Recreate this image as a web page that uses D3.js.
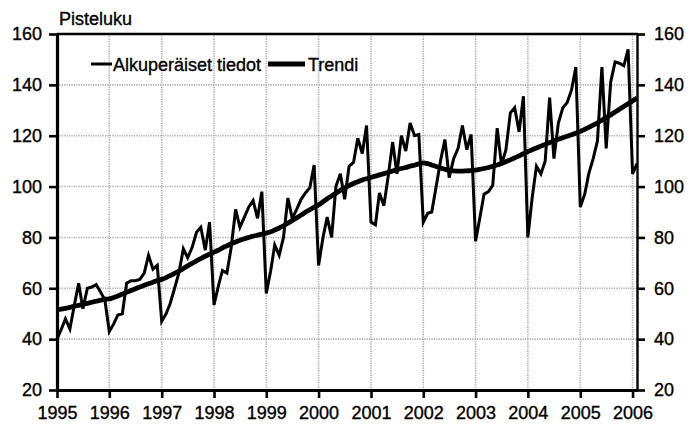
<!DOCTYPE html>
<html>
<head>
<meta charset="utf-8">
<script src="https://cdn.jsdelivr.net/npm/d3@7"></script>
<style>
  html, body { margin: 0; padding: 0; background: #fff; }
  svg { display: block; font-family: "Liberation Sans", Arial, sans-serif; }
</style>
</head>
<body>
<svg id="chart" width="690" height="429"></svg>
<script>
// ---- data ----
const startYear = 1995;
const yearLabels = ["1995","1996","1997","1998","1999","2000","2001","2002","2003","2004","2005","2006"];
const yTicks = [20, 40, 60, 80, 100, 120, 140, 160];
const yTitle = "Pisteluku";
const seriesNames = ["Alkuperäiset tiedot", "Trendi"];

// monthly values Jan 1995 .. Feb 2006
const original = [
  40, 44, 48, 44, 53, 62, 52, 60, 60.5, 61.5, 58.5, 55.5,
  43, 46, 49.5, 50, 62, 63, 63, 63.5, 66, 73, 67.5, 69,
  47, 50, 54, 60, 66, 75.5, 72, 76, 82, 84, 75, 86,
  53.5, 61, 67, 66, 76, 91, 84, 88, 92, 94.5, 87.5, 98,
  58, 67, 77, 73, 80, 95.5, 87.5, 91, 95, 97.5, 99.5, 108.5,
  69, 80, 88, 80, 100, 105, 95, 108, 109.5, 119, 113, 124,
  86, 85, 97.5, 92.5, 104, 117.5, 105, 120, 114, 125, 120, 120.5,
  86, 89.5, 90, 100, 110, 118.5, 103.5, 111, 115, 124, 114.5, 120.5,
  78.5, 88, 97, 98, 100.5, 123, 108.5, 114.5, 129, 131, 121.5, 135.5,
  80, 96, 108, 105, 110, 135, 111, 125, 131, 133, 138, 147,
  92, 97, 105, 111, 118, 147, 115, 141, 149, 148.5, 147.5, 154,
  105, 109
];
const trend = [
  51.5, 51.8, 52.1, 52.5, 52.9, 53.3, 53.7, 54.1, 54.5, 54.9, 55.3, 55.7,
  55.8, 56.4, 57.0, 57.7, 58.4, 59.1, 59.8, 60.5, 61.2, 61.8, 62.4, 63.0,
  63.5, 64.2, 65.0, 65.9, 66.8, 67.8, 68.8, 69.8, 70.8, 71.7, 72.6, 73.4,
  74.2, 75.0, 75.9, 76.7, 77.5, 78.2, 78.9, 79.5, 80.0, 80.5, 80.9, 81.3,
  81.7, 82.2, 82.9, 83.7, 84.6, 85.6, 86.6, 87.7, 88.8, 89.9, 90.9, 91.9,
  92.8, 94.0, 95.2, 96.3, 97.4, 98.5, 99.5, 100.4, 101.2, 101.9, 102.6, 103.1,
  103.6, 104.1, 104.6, 105.1, 105.6, 106.1, 106.6, 107.1, 107.5, 108.0, 108.4, 108.9,
  109.3, 109.0, 108.5, 107.9, 107.3, 106.8, 106.4, 106.2, 106.1, 106.1, 106.2, 106.3,
  106.5, 106.8, 107.1, 107.5, 108.0, 108.5, 109.1, 109.8, 110.5, 111.3, 112.1, 112.9,
  113.8, 114.5, 115.2, 115.9, 116.6, 117.3, 118.0, 118.6, 119.2, 119.8, 120.4, 121.0,
  121.7, 122.5, 123.3, 124.2, 125.1, 126.1, 127.1, 128.2, 129.3, 130.4, 131.5, 132.6,
  133.7, 134.8
];

// ---- layout ----
const L = 57, R = 637, T = 34, B = 390;
const svg = d3.select("#chart");

const dateOf = i => new Date(startYear, i, 1);
const x = d3.scaleTime()
  .domain([dateOf(0), dateOf(original.length - 1)])
  .range([L, R]);
const y = d3.scaleLinear().domain([20, 160]).range([B, T]);
const yearDates = yearLabels.map(s => new Date(+s, 0, 1));

// grid
const grid = svg.append("g").attr("stroke", "#aaa").attr("stroke-width", 1.6)
  .attr("stroke-dasharray", "1.2,1.2");
grid.selectAll("line.v").data(yearDates.slice(1)).join("line")
  .attr("x1", d => x(d)).attr("x2", d => x(d)).attr("y1", T).attr("y2", B);
grid.selectAll("line.h").data(yTicks.slice(1, -1)).join("line")
  .attr("x1", L).attr("x2", R).attr("y1", d => y(d)).attr("y2", d => y(d));

// lines
const line = d3.line().x((d, i) => x(dateOf(i))).y(d => y(d)).curve(d3.curveLinear);
svg.append("path").datum(original).attr("d", line)
  .attr("fill", "none").attr("stroke", "#000").attr("stroke-width", 3)
  .attr("stroke-linejoin", "miter");
svg.append("path").datum(trend).attr("d", line.curve(d3.curveMonotoneX))
  .attr("fill", "none").attr("stroke", "#000").attr("stroke-width", 4.8)
  .attr("stroke-linejoin", "round");

// axes
const fs = "18px";
const axL = svg.append("g").attr("transform", `translate(${L},0)`)
  .call(d3.axisLeft(y).tickValues(yTicks).tickSize(8).tickSizeOuter(0).tickPadding(7));
const axR = svg.append("g").attr("transform", `translate(${R},0)`)
  .call(d3.axisRight(y).tickValues(yTicks).tickSize(8).tickSizeOuter(0).tickPadding(9));
const axB = svg.append("g").attr("transform", `translate(0,${B})`)
  .call(d3.axisBottom(x).tickValues(yearDates).tickSize(8).tickSizeOuter(0).tickPadding(8)
    .tickFormat((d, i) => yearLabels[i]));
[axL, axR, axB].forEach(a => {
  a.selectAll("text").attr("font-size", fs).attr("fill", "#000")
    .attr("stroke", "#000").attr("stroke-width", 0.35)
    .attr("font-family", "'Liberation Sans', Arial, sans-serif");
  a.selectAll(".tick line").attr("stroke", "#000").attr("stroke-width", 2.6);
  a.select(".domain").attr("stroke", "#000");
});
axL.select(".domain").attr("stroke-width", 3.2);
axB.select(".domain").attr("stroke-width", 3.2);
axR.select(".domain").attr("stroke-width", 2.4);
// top frame
svg.append("line").attr("x1", L).attr("x2", R + 1).attr("y1", T).attr("y2", T)
  .attr("stroke", "#000").attr("stroke-width", 2.6);

// title
svg.append("text").attr("x", 59).attr("y", 25).attr("font-size", fs)
  .attr("stroke", "#000").attr("stroke-width", 0.35).text(yTitle);

// legend
const leg = [
  {name: seriesNames[0], x1: 91, x2: 112, w: 3, tx: 113},
  {name: seriesNames[1], x1: 268, x2: 305, w: 4.8, tx: 308}
];
const lg = svg.append("g");
lg.selectAll("line").data(leg).join("line")
  .attr("x1", d => d.x1).attr("x2", d => d.x2).attr("y1", 64).attr("y2", 64)
  .attr("stroke", "#000").attr("stroke-width", d => d.w);
lg.selectAll("text").data(leg).join("text")
  .attr("x", d => d.tx).attr("y", 71).attr("font-size", fs)
  .attr("stroke", "#000").attr("stroke-width", 0.35).text(d => d.name);
</script>
</body>
</html>
